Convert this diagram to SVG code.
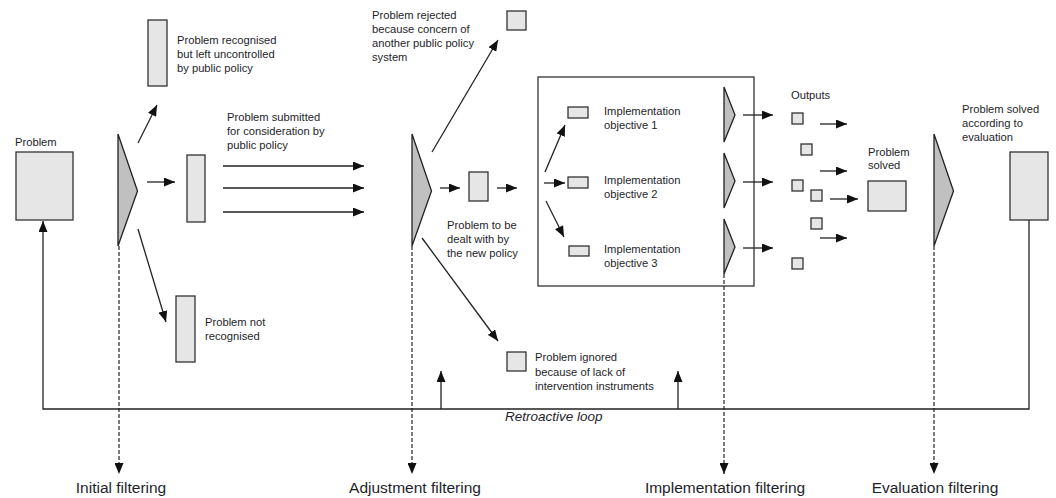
<svg xmlns="http://www.w3.org/2000/svg" width="1056" height="498" viewBox="0 0 1056 498">
<style>
.box{fill:#e6e6e6;stroke:#333;stroke-width:1.3}
.fun{fill:#c0c0c0;stroke:#222;stroke-width:1.3;stroke-linejoin:miter}
.ln{fill:none;stroke:#222;stroke-width:1.3}
.dash{fill:none;stroke:#222;stroke-width:1.2;stroke-dasharray:4 2}
.t{font-family:"Liberation Sans",Arial,sans-serif;font-size:11.2px;fill:#1e1e2a}
.big{font-family:"Liberation Sans",Arial,sans-serif;font-size:15.5px;fill:#1e1e2a;text-anchor:middle}
.it{font-family:"Liberation Sans",Arial,sans-serif;font-size:13.5px;font-style:italic;fill:#1e1e2a}
</style>
<defs>
<marker id="ah" markerUnits="userSpaceOnUse" markerWidth="11" markerHeight="9" refX="11" refY="4.5" orient="auto">
<path d="M0,0 L11,4.5 L0,9 z" fill="#111"/>
</marker>
</defs>
<rect width="1056" height="498" fill="#fff"/>

<g id="problem"><text class="t" x="15" y="146">Problem</text><rect class="box" x="16" y="152" width="57" height="68"/></g>
<g id="initial-funnel"><polygon class="fun" points="118,134 137.5,191 118,246"/></g>
<g id="recognised-uncontrolled"><rect class="box" x="148" y="20" width="19" height="66"/>
<text class="t" x="177" y="44">Problem recognised</text><text class="t" x="177" y="58">but left uncontrolled</text><text class="t" x="177" y="72">by public policy</text></g>
<g id="submitted"><rect class="box" x="187" y="155" width="18" height="67"/>
<text class="t" x="227" y="121">Problem submitted</text><text class="t" x="227" y="135">for consideration by</text><text class="t" x="227" y="149">public policy</text></g>
<g id="not-recognised"><rect class="box" x="176" y="296" width="19" height="66"/>
<text class="t" x="205" y="326">Problem not</text><text class="t" x="205" y="340">recognised</text></g>
<g id="adjustment-funnel"><polygon class="fun" points="412,134 431.5,191 412,246"/></g>
<g id="rejected"><rect class="box" x="507" y="11" width="19" height="19"/>
<text class="t" x="372" y="19">Problem rejected</text><text class="t" x="372" y="33">because concern of</text><text class="t" x="372" y="47">another public policy</text><text class="t" x="372" y="61">system</text></g>
<g id="dealt"><rect class="box" x="469" y="172" width="19" height="29"/>
<text class="t" x="447" y="229">Problem to be</text><text class="t" x="447" y="243">dealt with by</text><text class="t" x="447" y="257">the new policy</text></g>
<g id="ignored"><rect class="box" x="507" y="352" width="19" height="19"/>
<text class="t" x="535" y="361">Problem ignored</text><text class="t" x="535" y="375.5">because of lack of</text><text class="t" x="535" y="390">intervention instruments</text></g>
<g id="implementation"><rect x="538" y="77" width="216" height="209" fill="none" stroke="#333" stroke-width="1.3"/>
<rect class="box" x="568" y="107" width="20" height="11"/><text class="t" x="604" y="115">Implementation</text><text class="t" x="604" y="129">objective 1</text>
<rect class="box" x="568" y="177" width="20" height="11"/><text class="t" x="604" y="184">Implementation</text><text class="t" x="604" y="198">objective 2</text>
<rect class="box" x="569" y="246" width="20" height="10"/><text class="t" x="604" y="253">Implementation</text><text class="t" x="604" y="267">objective 3</text>
<polygon class="fun" points="724,87 735,115 724,142"/>
<polygon class="fun" points="724,153 735,181 724,208"/>
<polygon class="fun" points="724,219 735,247 724,274"/></g>
<g id="outputs"><text class="t" x="791" y="99">Outputs</text>
<rect class="box" x="792" y="113" width="11" height="11"/>
<rect class="box" x="801" y="144" width="11" height="11"/>
<rect class="box" x="792" y="180" width="11" height="11"/>
<rect class="box" x="811" y="190" width="11" height="11"/>
<rect class="box" x="811" y="218" width="11" height="11"/>
<rect class="box" x="792" y="258" width="11" height="11"/></g>
<g id="solved"><text class="t" x="868" y="156">Problem</text><text class="t" x="868" y="169">solved</text><rect class="box" x="868" y="181" width="38" height="30"/></g>
<g id="evaluation-funnel"><polygon class="fun" points="934,134 953.5,191 934,246"/></g>
<g id="solved-evaluation"><rect class="box" x="1010" y="152" width="38" height="68"/>
<text class="t" x="962" y="113">Problem solved</text><text class="t" x="962" y="127">according to</text><text class="t" x="962" y="141">evaluation</text></g>
<g id="labels">
<text class="it" x="505" y="421">Retroactive loop</text>
<text class="big" x="121" y="493">Initial filtering</text>
<text class="big" x="415" y="493">Adjustment filtering</text>
<text class="big" x="725" y="493">Implementation filtering</text>
<text class="big" x="935" y="493">Evaluation filtering</text>
</g>

<g id="connectors">
<line class="ln" x1="138" y1="143" x2="157" y2="105" marker-end="url(#ah)"/>
<line class="ln" x1="147" y1="182" x2="175" y2="182" marker-end="url(#ah)"/>
<line class="ln" x1="138" y1="229" x2="166" y2="322" marker-end="url(#ah)"/>
<line class="ln" x1="223" y1="166" x2="364" y2="166" marker-end="url(#ah)"/>
<line class="ln" x1="223" y1="188" x2="364" y2="188" marker-end="url(#ah)"/>
<line class="ln" x1="223" y1="212" x2="364" y2="212" marker-end="url(#ah)"/>
<line class="ln" x1="432" y1="152" x2="498" y2="40" marker-end="url(#ah)"/>
<line class="ln" x1="440" y1="188" x2="460" y2="188" marker-end="url(#ah)"/>
<line class="ln" x1="497" y1="188" x2="517" y2="188" marker-end="url(#ah)"/>
<line class="ln" x1="422" y1="238" x2="498" y2="341" marker-end="url(#ah)"/>
<line class="ln" x1="545" y1="172" x2="565" y2="125" marker-end="url(#ah)"/>
<line class="ln" x1="544" y1="183" x2="565" y2="183" marker-end="url(#ah)"/>
<line class="ln" x1="546" y1="201" x2="564" y2="237" marker-end="url(#ah)"/>
<line class="ln" x1="743" y1="115" x2="773" y2="115" marker-end="url(#ah)"/>
<line class="ln" x1="743" y1="182" x2="773" y2="182" marker-end="url(#ah)"/>
<line class="ln" x1="743" y1="248" x2="773" y2="248" marker-end="url(#ah)"/>
<line class="ln" x1="820" y1="124" x2="847" y2="124" marker-end="url(#ah)"/>
<line class="ln" x1="820" y1="171" x2="847" y2="171" marker-end="url(#ah)"/>
<line class="ln" x1="830" y1="199" x2="858" y2="199" marker-end="url(#ah)"/>
<line class="ln" x1="820" y1="238" x2="847" y2="238" marker-end="url(#ah)"/>
<path class="ln" d="M1029,220 V409 H43 V221" marker-end="url(#ah)"/>
<line class="ln" x1="441" y1="409" x2="441" y2="371" marker-end="url(#ah)"/>
<line class="ln" x1="678" y1="409" x2="678" y2="371" marker-end="url(#ah)"/>
<line class="dash" x1="119" y1="246" x2="119" y2="474" marker-end="url(#ah)"/>
<line class="dash" x1="412" y1="246" x2="412" y2="474" marker-end="url(#ah)"/>
<line class="dash" x1="724" y1="274" x2="724" y2="474" marker-end="url(#ah)"/>
<line class="dash" x1="934" y1="246" x2="934" y2="474" marker-end="url(#ah)"/>
</g>
</svg>
